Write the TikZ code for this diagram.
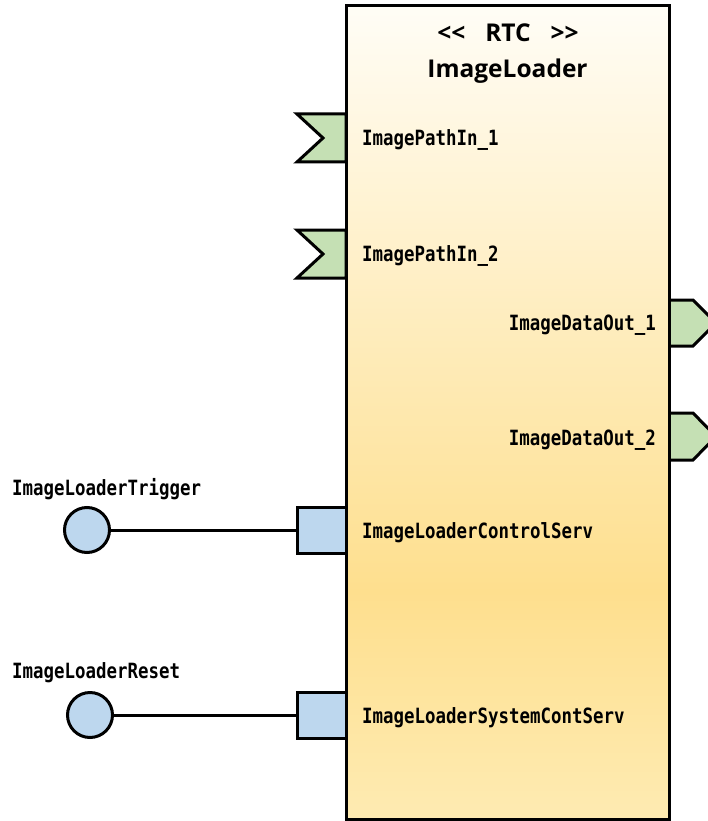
\documentclass[tikz,border=0pt]{standalone}
\usepackage{fontspec}
\setmainfont{Open Sans}
\newfontfamily\portfont{DejaVu Sans Mono}[FakeStretch=0.83]
\newfontfamily\titlefont{Open Sans}
\definecolor{rtctop}{HTML}{FFFDF6}
\definecolor{rtcmid}{HTML}{FEDF8E}
\definecolor{rtcbot}{HTML}{FEEBB2}
\definecolor{portgreen}{HTML}{C5E0B4}
\definecolor{portblue}{HTML}{BDD7EE}
\pgfdeclareverticalshading{rtcshade}{100bp}{color(0bp)=(rtcbot); color(25bp)=(rtcbot); color(39bp)=(rtcmid); color(75bp)=(rtctop); color(100bp)=(rtctop)}
\begin{document}
\begin{tikzpicture}[x=1pt,y=-1pt,
  outline/.style={draw=black,line width=3pt,line join=miter},
  inport/.style={outline,fill=portgreen},
  outport/.style={outline,fill=portgreen},
  servport/.style={outline,fill=portblue,minimum width=49pt,minimum height=46pt,inner sep=0pt},
  iface/.style={outline,fill=portblue,circle,minimum size=45pt,inner sep=0pt},
  conn/.style={draw=black,line width=3pt},
  plabel/.style={font=\portfont\bfseries\fontsize{21}{24}\selectfont,inner sep=0pt},
  tlabel/.style={font=\titlefont\bfseries\fontsize{24.5}{28}\selectfont,inner sep=0pt}]
\useasboundingbox (0,0) rectangle (708,821);
\clip (0,0) rectangle (708,821);
\fill[white] (0,0) rectangle (708,821);
% input ports
\draw[inport] (297,114) -- (346,114) -- (346,162) -- (297,162) -- (323,138) -- cycle;
\draw[inport] (297,230) -- (346,230) -- (346,278) -- (297,278) -- (323,254) -- cycle;
% output ports
\draw[outport] (669,300) -- (693,300) -- (716,323) -- (693,346) -- (669,346);
\draw[outport] (669,413) -- (693,413) -- (716,436.5) -- (693,460) -- (669,460);
% service ports
\node[servport] (sp1) at (321.5,530) {};
\node[servport] (sp2) at (321.5,715) {};
% main box
\node[outline,shading=rtcshade,minimum width=323pt,minimum height=813pt,inner sep=0pt] (rtc) at (507.5,412.5) {};
% provided interfaces
\node[iface] (if1) at (87,530) {};
\node[iface] (if2) at (90,715) {};
\draw[conn] (if1) -- (sp1);
\draw[conn] (if2) -- (sp2);
% title
\node[tlabel,anchor=base] (t1) at (508,42) {<<\hspace{20pt}RTC\hspace{20pt}>>};
\node[tlabel,anchor=base] (t2) at (507.5,78) {ImageLoader};
% port labels
\node[plabel,anchor=base west] (l1) at (362,146) {ImagePathIn\_1};
\node[plabel,anchor=base west] (l2) at (362,261) {ImagePathIn\_2};
\node[plabel,anchor=base east] (l3) at (656,330) {ImageDataOut\_1};
\node[plabel,anchor=base east] (l4) at (656,445) {ImageDataOut\_2};
\node[plabel,anchor=base west] (l5) at (362,538) {ImageLoaderControlServ};
\node[plabel,anchor=base west] (l6) at (362,723) {ImageLoaderSystemContServ};
\node[plabel,anchor=base west] (l7) at (12,495) {ImageLoaderTrigger};
\node[plabel,anchor=base west] (l8) at (12,678) {ImageLoaderReset};
\end{tikzpicture}
\end{document}
